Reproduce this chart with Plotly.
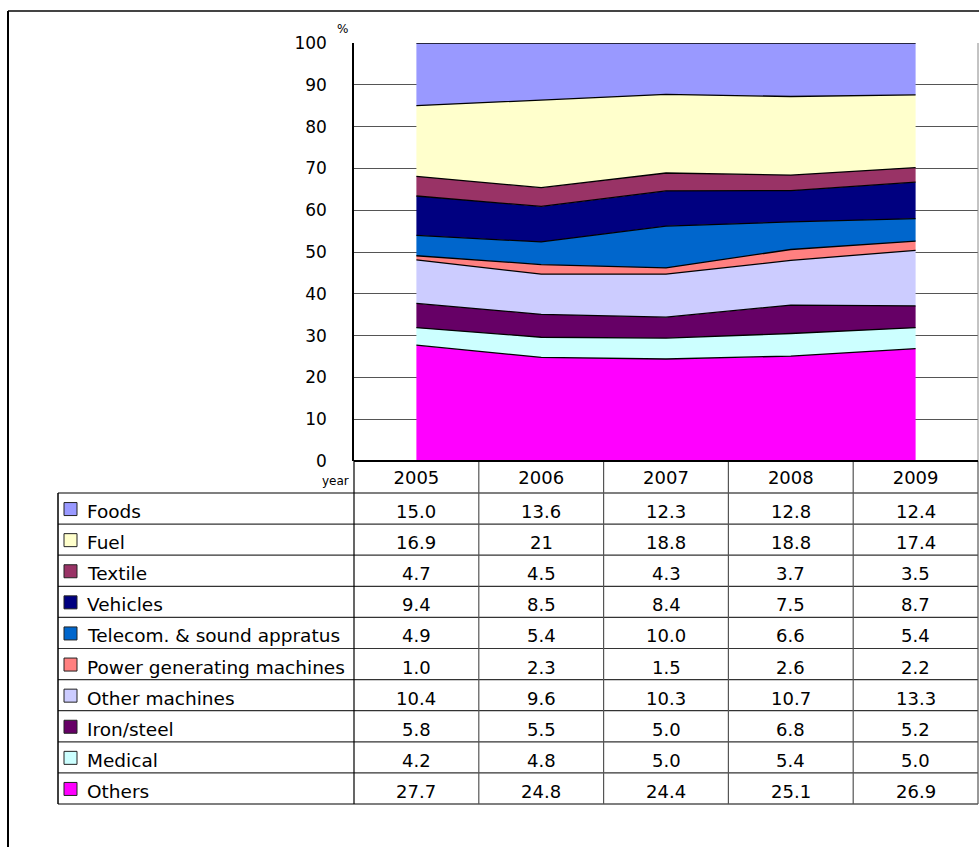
import plotly.graph_objects as go

# ---- data -------------------------------------------------------------
years = ["2005", "2006", "2007", "2008", "2009"]

# table order (top to bottom); stacking order is the reverse
categories = [
    "Foods", "Fuel", "Textile", "Vehicles", "Telecom. & sound appratus",
    "Power generating machines", "Other machines", "Iron/steel", "Medical", "Others",
]
foods = [15.0, 13.6, 12.3, 12.8, 12.4]
fuel = [16.9, 21, 18.8, 18.8, 17.4]
textile = [4.7, 4.5, 4.3, 3.7, 3.5]
vehicles = [9.4, 8.5, 8.4, 7.5, 8.7]
telecom = [4.9, 5.4, 10.0, 6.6, 5.4]
power_gen = [1.0, 2.3, 1.5, 2.6, 2.2]
other_machines = [10.4, 9.6, 10.3, 10.7, 13.3]
iron_steel = [5.8, 5.5, 5.0, 6.8, 5.2]
medical = [4.2, 4.8, 5.0, 5.4, 5.0]
others = [27.7, 24.8, 24.4, 25.1, 26.9]

series = {
    "Foods": foods, "Fuel": fuel, "Textile": textile, "Vehicles": vehicles,
    "Telecom. & sound appratus": telecom, "Power generating machines": power_gen,
    "Other machines": other_machines, "Iron/steel": iron_steel,
    "Medical": medical, "Others": others,
}

colors = {
    "Foods": "#9999FF", "Fuel": "#FFFFCC", "Textile": "#993366",
    "Vehicles": "#000080", "Telecom. & sound appratus": "#0066CC",
    "Power generating machines": "#FF8080", "Other machines": "#CCCCFF",
    "Iron/steel": "#660066", "Medical": "#CCFFFF", "Others": "#FF00FF",
}

y_ticks = list(range(0, 101, 10))


def fmt(v):
    # whole numbers above 20 are printed without a decimal in the table
    return str(int(v)) if float(v).is_integer() and v > 20 else f"{v:.1f}"


# ---- layout geometry (pixels) -------------------------------------------
W, H = 979, 847
FONT = "DejaVu Sans"
plot_left, plot_right = 354, 978
plot_top, plot_bottom = 43, 461
table_left = 58
header_bottom = 493
row_h = 31.1


def px(x):
    return x / W


def py(y):
    return 1 - y / H


fig = go.Figure()

# stacked areas, bottom layer first
for name in reversed(categories):
    fig.add_trace(go.Scatter(
        x=years, y=series[name], name=name, mode="lines",
        stackgroup="one", line=dict(color="black", width=1.3),
        fillcolor=colors[name], showlegend=False,
        hovertemplate="%{x}: %{y}<extra>" + name + "</extra>",
    ))

shapes = []
annotations = []

line_dark = "#333333"

# table horizontal rules
n = len(categories)
row_edges = [header_bottom + i * row_h for i in range(n + 1)]
for i, yy in enumerate(row_edges):
    shapes.append(dict(type="line", xref="paper", yref="paper",
                       x0=px(table_left), x1=px(plot_right),
                       y0=py(yy), y1=py(yy),
                       line=dict(color="black" if i in (0, n) else line_dark, width=1.2)))

# table vertical rules
col_w = (plot_right - plot_left) / len(years)
for j in range(len(years) + 1):
    xx = plot_left + j * col_w
    shapes.append(dict(type="line", xref="paper", yref="paper",
                       x0=px(xx), x1=px(xx), y0=py(plot_bottom), y1=py(row_edges[-1]),
                       line=dict(color="black" if j == 0 else "#555555", width=1.2)))
shapes.append(dict(type="line", xref="paper", yref="paper",
                   x0=px(table_left), x1=px(table_left),
                   y0=py(header_bottom), y1=py(row_edges[-1]),
                   line=dict(color="black", width=1.5)))

# right edge of plot area
shapes.append(dict(type="line", xref="paper", yref="paper",
                   x0=px(plot_right), x1=px(plot_right),
                   y0=py(plot_top), y1=py(plot_bottom),
                   line=dict(color="#888888", width=1)))
# header top line (x axis)
shapes.append(dict(type="line", xref="paper", yref="paper",
                   x0=px(plot_left), x1=px(plot_right),
                   y0=py(plot_bottom), y1=py(plot_bottom),
                   line=dict(color="black", width=2)))

# outer frame (top and left)
shapes.append(dict(type="line", xref="paper", yref="paper",
                   x0=px(8), x1=1, y0=py(11), y1=py(11),
                   line=dict(color="#444444", width=2)))
shapes.append(dict(type="line", xref="paper", yref="paper",
                   x0=px(8), x1=px(8), y0=py(11), y1=0,
                   line=dict(color="black", width=2)))

# row labels, swatches, values
for i, name in enumerate(categories):
    yc = header_bottom + (i + 0.5) * row_h
    shapes.append(dict(type="rect", xref="paper", yref="paper",
                       x0=px(64), x1=px(77), y0=py(yc - 6), y1=py(yc + 7),
                       fillcolor=colors[name], line=dict(color="#222222", width=1)))
    annotations.append(dict(text=name, xref="paper", yref="paper",
                            x=px(85), y=py(yc + 3), xanchor="left", yanchor="middle",
                            showarrow=False, font=dict(family=FONT, size=18.5, color="black")))
    for k, v in enumerate(series[name]):
        # category axis position by index
        annotations.append(dict(text=fmt(v), xref="x", yref="paper",
                                x=k, y=py(yc + 3), xanchor="center", yanchor="middle",
                                showarrow=False,
                                font=dict(family=FONT, size=18, color="black")))

# small axis captions
annotations.append(dict(text="year", xref="paper", yref="paper", x=px(351), y=py(481),
                        xanchor="right", yanchor="middle", showarrow=False,
                        font=dict(family=FONT, size=12, color="black")))
annotations.append(dict(text="%", xref="paper", yref="paper", x=px(342), y=py(29),
                        xanchor="center", yanchor="middle", showarrow=False,
                        font=dict(family=FONT, size=12, color="black")))

fig.update_layout(
    width=W, height=H,
    margin=dict(l=0, r=0, t=0, b=0, autoexpand=False),
    paper_bgcolor="white", plot_bgcolor="white",
    showlegend=False,
    shapes=shapes, annotations=annotations,
    xaxis=dict(
        domain=[px(plot_left), px(plot_right)],
        type="category", range=[-0.5, len(years) - 0.5],
        showgrid=False, zeroline=False, showline=False, automargin=False,
        ticks="", tickfont=dict(family=FONT, size=18, color="black"),
        ticklabelstandoff=4,
    ),
    yaxis=dict(
        domain=[py(plot_bottom), py(plot_top)],
        range=[0, 100], tickvals=y_ticks, automargin=False,
        showgrid=True, gridcolor="#555555", gridwidth=1,
        zeroline=False, showline=True, linecolor="black", linewidth=1.5,
        ticks="", ticklabelstandoff=22,
        tickfont=dict(family=FONT, size=17, color="black"),
    ),
)

fig.write_html("out.html")
